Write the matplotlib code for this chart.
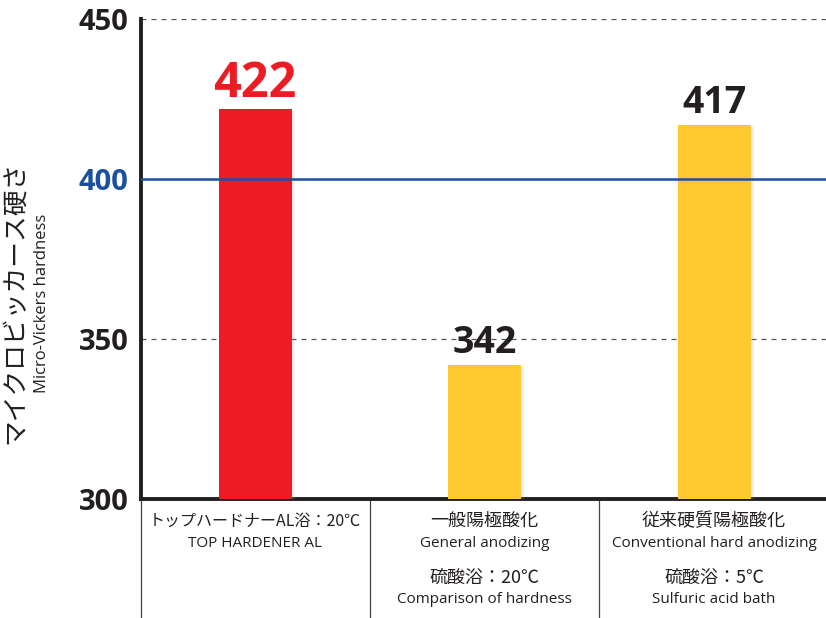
import matplotlib
matplotlib.use('Agg')
import matplotlib.pyplot as plt
import matplotlib.patheffects as pe
import numpy as np

plt.rcParams['font.family'] = ['Noto Sans CJK JP', 'DejaVu Sans']

# data
names_ja = ['トップハードナーAL浴：20℃', '一般陽極酸化', '従来硬質陽極酸化']
names_en = ['TOP HARDENER AL', 'General anodizing', 'Conventional hard anodizing']
bath_ja = ['', '硫酸浴：20℃', '硫酸浴：5℃']
bath_en = ['', 'Comparison of hardness', 'Sulfuric acid bath']
hardness = [422, 342, 417]
yticks = [300, 350, 400, 450]
ref_value = 400

dark = '#231f20'
red = '#ed1c24'
yellow = '#fdc92f'
blue = '#1b4f9f'
bar_colors = [red, yellow, yellow]
label_colors = [red, dark, dark]

fig = plt.figure(figsize=(8.26, 6.18), dpi=100)
ax = fig.add_axes([141 / 826, 1 - 499 / 618, 1 - 141 / 826, (499 - 19) / 618])

x = np.arange(len(hardness))
bars = ax.bar(x, hardness, width=0.318, color=bar_colors, zorder=3)
for b in bars:
    b.set_path_effects([pe.SimplePatchShadow(offset=(2.5, -2), shadow_rgbFace='#a0a0a0', alpha=0.18),
                        pe.Normal()])

ax.set_xlim(-0.497, 2.488)
ax.set_ylim(300, 450)

# grid lines
for v in [350, 450]:
    ax.axhline(v, color='#555555', lw=0.9, ls=(0, (4, 4)), zorder=1)
ax.axhline(ref_value, color=blue, lw=1.8, zorder=4)

# value labels
for xi, v, c in zip(x, hardness, label_colors):
    ax.annotate(str(v), (xi, v), xytext=(0, 8), textcoords='offset points',
                ha='center', va='baseline', fontsize=35 if c == red else 27,
                fontweight='bold', color=c, family=['Open Sans', 'DejaVu Sans'])

# axes styling
for s in ['top', 'right']:
    ax.spines[s].set_visible(False)
ax.spines['left'].set_linewidth(2.8)
ax.spines['bottom'].set_linewidth(2.8)
ax.spines['left'].set_color(dark)
ax.spines['bottom'].set_color(dark)
ax.set_xticks([])
ax.set_yticks(yticks)
ax.set_yticklabels([str(t) for t in yticks], fontsize=21, fontweight='bold',
                   family=['Open Sans', 'DejaVu Sans'])
ax.tick_params(axis='y', length=0, pad=9, colors=dark)
for lbl, t in zip(ax.get_yticklabels(), yticks):
    lbl.set_color(blue if t == ref_value else dark)

# table under the axis
trans = ax.get_xaxis_transform()
for xs in [-0.497, 0.5, 1.5]:
    ax.plot([xs, xs], [0, -0.25], transform=trans, color='#444444', lw=0.9, clip_on=False)

for xi in x:
    ax.text(xi, -0.046, names_ja[xi], transform=trans, ha='center', va='center',
            fontsize=11.5 if xi == 0 else 13, color=dark)
    ax.text(xi, -0.092, names_en[xi], transform=trans, ha='center', va='center',
            fontsize=11, color=dark, family=['Open Sans', 'DejaVu Sans'])
    if bath_ja[xi]:
        ax.text(xi, -0.165, bath_ja[xi], transform=trans, ha='center', va='center',
                fontsize=13, color=dark)
        ax.text(xi, -0.21, bath_en[xi], transform=trans, ha='center', va='center',
                fontsize=11, color=dark, family=['Open Sans', 'DejaVu Sans'])

# y axis titles
fig.text(15 / 826, 1 - 302 / 618, 'マイクロビッカース硬さ', rotation=90, ha='center', va='center',
         fontsize=18.5, color=dark)
fig.text(42 / 826, 1 - 303 / 618, 'Micro-Vickers hardness', rotation=90, ha='center', va='center',
         fontsize=12, color=dark, family=['Open Sans', 'DejaVu Sans'])

fig.savefig('out.png', dpi=100)
